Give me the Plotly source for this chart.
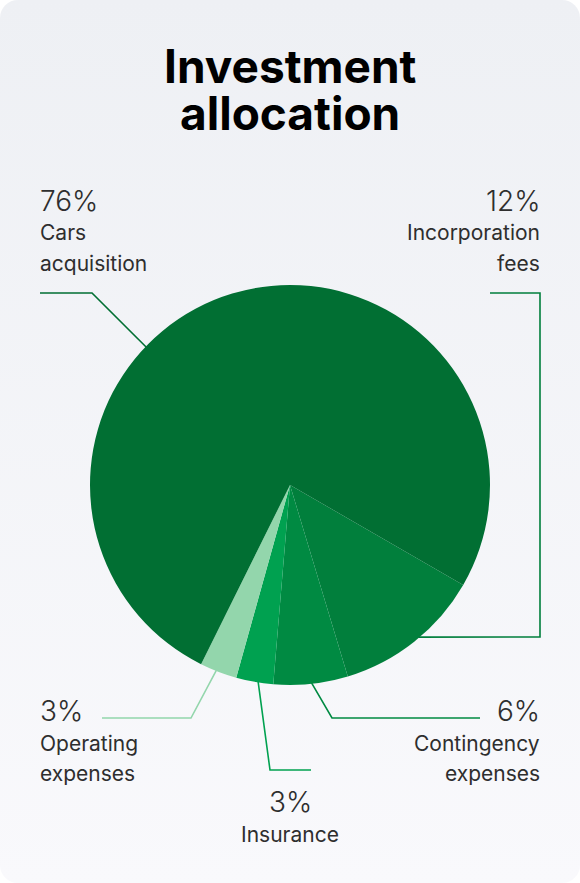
import math
import base64
import plotly.graph_objects as go

# ---- data ----
labels = ["Incorporation fees", "Contingency expenses", "Insurance", "Operating expenses", "Cars acquisition"]
values = [12, 6, 3, 3, 76]
pct_text = ["12%", "6%", "3%", "3%", "76%"]
name_lines = [["Incorporation", "fees"], ["Contingency", "expenses"], ["Insurance"], ["Operating", "expenses"], ["Cars", "acquisition"]]
colors = ["#017f3c", "#008a42", "#00a150", "#93d6ac", "#016f33"]

W, H = 580, 883
CX, CY, R = 290, 485, 200
ROT = 120  # degrees clockwise from 12 o'clock where first slice starts

# anchor fraction inside each slice where its leader line touches the pie
anchor_frac = [0.46, 0.49, 0.41, 0.56, 0.3925]
# leader path after the pie edge point (pixel layout positions)
leader_paths = [
    [(540, 637), (540, 293), (490, 293)],
    [(332, 718), (480, 718)],
    [(270, 770), (311, 770)],
    [(191, 718), (102, 718)],
    [(92, 293), (40, 293)],
]
# label layout: (x, y of percent, anchor)
label_pos = [
    (540, 201, "right"),
    (540, 711, "right"),
    (290, 802, "center"),
    (40, 711, "left"),
    (40, 201, "left"),
]

def px(x):
    return x / W

def py(y):
    return 1 - y / H

fig = go.Figure()

# background gradient rounded card via SVG image
svg = f'''<svg xmlns="http://www.w3.org/2000/svg" width="{W}" height="{H}">
<defs><linearGradient id="g" x1="0" y1="0" x2="0" y2="1">
<stop offset="0" stop-color="#eef0f4"/><stop offset="1" stop-color="#f9f9fc"/></linearGradient></defs>
<rect x="0" y="0" width="{W}" height="{H}" rx="18" ry="18" fill="url(#g)"/></svg>'''
src = "data:image/svg+xml;base64," + base64.b64encode(svg.encode()).decode()
fig.add_layout_image(dict(source=src, xref="paper", yref="paper", x=0, y=1, sizex=1, sizey=1,
                          xanchor="left", yanchor="top", sizing="stretch", layer="below"))

fig.add_trace(go.Pie(
    labels=labels, values=values, sort=False, direction="clockwise", rotation=ROT,
    marker=dict(colors=colors, line=dict(width=0)), textinfo="none", hoverinfo="label+percent",
    showlegend=False,
    domain=dict(x=[px(CX - R), px(CX + R)], y=[py(CY + R), py(CY - R)]),
))

# leader lines computed from slice angles
total = sum(values)
start = ROT  # from north, clockwise
shapes = []
for i, v in enumerate(values):
    span = 360 * v / total
    ang = math.radians(start + anchor_frac[i] * span)
    ex = CX + R * 0.995 * math.sin(ang)
    ey = CY - R * 0.995 * math.cos(ang)
    pts = [(ex, ey)] + leader_paths[i]
    path = "M " + " L ".join(f"{px(x):.5f},{py(y):.5f}" for x, y in pts)
    shapes.append(dict(type="path", path=path, xref="paper", yref="paper",
                       line=dict(color=colors[i], width=1.6), fillcolor="rgba(0,0,0,0)"))
    start += span

annotations = []
FONT = "Inter"
shift = {"left": -2, "right": 2, "center": 0}
for i in range(len(values)):
    x, y, anch = label_pos[i]
    annotations.append(dict(text=pct_text[i], x=px(x), y=py(y), xref="paper", yref="paper",
                            xanchor=anch, yanchor="middle", showarrow=False, xshift=shift[anch],
                            font=dict(family=FONT, size=28, color="#2e2e2e", weight=300)))
    for j, ln in enumerate(name_lines[i]):
        annotations.append(dict(text=ln, x=px(x), y=py(y + 32 + 30 * j), xref="paper", yref="paper",
                                xanchor=anch, yanchor="middle", showarrow=False, xshift=shift[anch],
                                font=dict(family=FONT, size=21, color="#2e2e2e", weight=400)))

title_lines = ["Investment", "allocation"]
for j, t in enumerate(title_lines):
    annotations.append(dict(text=t, x=0.5, y=py(66 + 47 * j), xref="paper", yref="paper",
                            xanchor="center", yanchor="middle", showarrow=False, height=46,
                            font=dict(family=FONT, size=46, color="#000000", weight=700)))

fig.update_layout(width=W, height=H, margin=dict(l=0, r=0, t=0, b=0),
                  paper_bgcolor="#ffffff", plot_bgcolor="rgba(0,0,0,0)",
                  shapes=shapes, annotations=annotations)

fig.write_html("out.html", config={"displayModeBar": False},
               post_script="document.body.style.margin='0';document.body.style.padding='0';")
